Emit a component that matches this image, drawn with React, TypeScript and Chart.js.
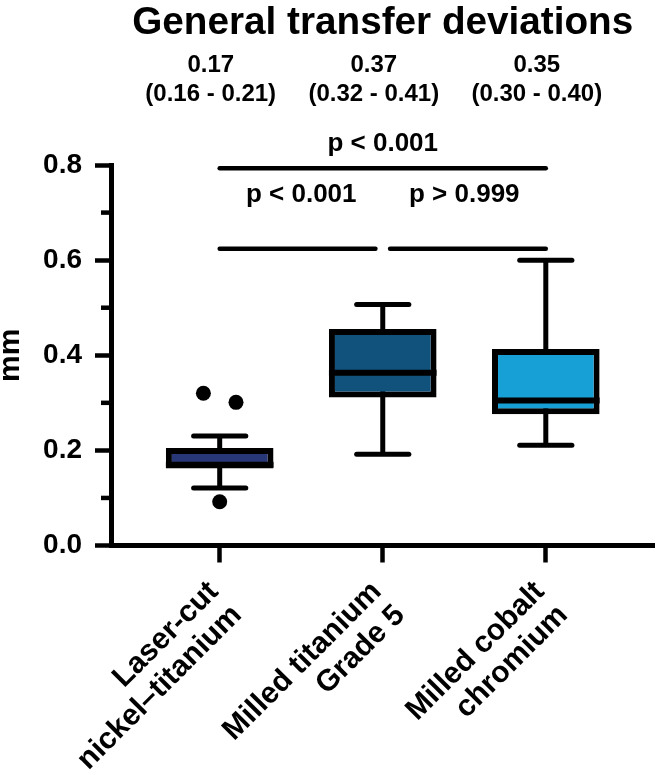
import React, { useEffect, useRef } from 'react';
import { Chart, registerables } from 'chart.js';

Chart.register(...registerables);

// ---------- data ----------
const CATEGORIES: string[][] = [
  ['Laser-cut', 'nickel–titanium'],
  ['Milled titanium', 'Grade 5'],
  ['Milled cobalt', 'chromium'],
];
const WHISKER_LOW = [0.121, 0.192, 0.211];
const Q1 = [0.162, 0.311, 0.276];
const MEDIAN = [0.170, 0.363, 0.305];
const Q3 = [0.205, 0.455, 0.413];
const WHISKER_HIGH = [0.230, 0.507, 0.600];
const OUTLIER_GROUP = [0, 0, 0];
const OUTLIER_VALUE = [0.320, 0.301, 0.092];
const SUMMARY_MEDIAN = ['0.17', '0.37', '0.35'];
const SUMMARY_IQR = ['(0.16 - 0.21)', '(0.32 - 0.41)', '(0.30 - 0.40)'];
const BRACKET_FROM = [0, 0, 1];
const BRACKET_TO = [2, 1, 2];
const BRACKET_LEVEL = [0.793, 0.624, 0.624];
const BRACKET_LABEL = ['p < 0.001', 'p < 0.001', 'p > 0.999'];
const Y_TICKS = [0, 0.2, 0.4, 0.6, 0.8];
const Y_MINOR_TICKS = [0.1, 0.3, 0.5, 0.7];
const TITLE = 'General transfer deviations';
const Y_TITLE = 'mm';

// ---------- styles ----------
const BOX_COLORS = ['#283778', '#11527c', '#17a0d6'];
const FONT = "'Liberation Sans', Arial, Helvetica, sans-serif";
const JITTER = 0.2;
const CAP_HALF = 0.16;
const BRACKET_GAP = 0.045;

function outlierPoints() {
  const pts: { x: number; y: number }[] = [];
  for (let g = 0; g < CATEGORIES.length; g++) {
    for (const side of ['above', 'below']) {
      const idx = OUTLIER_VALUE.map((_, i) => i).filter(
        (i) =>
          OUTLIER_GROUP[i] === g &&
          (side === 'above' ? OUTLIER_VALUE[i] > Q3[g] : OUTLIER_VALUE[i] < Q1[g])
      );
      idx.forEach((i, k) =>
        pts.push({ x: g + (k - (idx.length - 1) / 2) * JITTER, y: OUTLIER_VALUE[i] })
      );
    }
  }
  return pts;
}

const boxExtras = {
  id: 'boxExtras',
  beforeDatasetsDraw(chart: any) {
    const { ctx } = chart;
    const x = chart.scales.x;
    const y = chart.scales.y;
    ctx.save();
    ctx.strokeStyle = '#000';
    ctx.lineWidth = 5;
    ctx.lineCap = 'butt';
    for (let i = 0; i < CATEGORIES.length; i++) {
      const px = x.getPixelForValue(i);
      ctx.beginPath();
      ctx.moveTo(px, y.getPixelForValue(WHISKER_LOW[i]));
      ctx.lineTo(px, y.getPixelForValue(WHISKER_HIGH[i]));
      ctx.stroke();
    }
    ctx.restore();
  },
  afterDatasetsDraw(chart: any) {
    const { ctx, chartArea } = chart;
    const x = chart.scales.x;
    const y = chart.scales.y;
    ctx.save();
    ctx.strokeStyle = '#000';
    ctx.fillStyle = '#000';

    // medians
    const meta = chart.getDatasetMeta(0);
    ctx.lineWidth = 6;
    ctx.lineCap = 'butt';
    meta.data.forEach((bar: any, i: number) => {
      const p = bar.getProps(['x', 'width'], true);
      const my = y.getPixelForValue(MEDIAN[i]);
      ctx.beginPath();
      ctx.moveTo(p.x - p.width / 2, my);
      ctx.lineTo(p.x + p.width / 2, my);
      ctx.stroke();
    });

    // whisker caps
    ctx.lineWidth = 5;
    ctx.lineCap = 'round';
    for (let i = 0; i < CATEGORIES.length; i++) {
      for (const v of [WHISKER_LOW[i], WHISKER_HIGH[i]]) {
        const py = y.getPixelForValue(v);
        ctx.beginPath();
        ctx.moveTo(x.getPixelForValue(i - CAP_HALF), py);
        ctx.lineTo(x.getPixelForValue(i + CAP_HALF), py);
        ctx.stroke();
      }
    }

    // minor y ticks
    ctx.lineWidth = 4.5;
    ctx.lineCap = 'butt';
    for (const v of Y_MINOR_TICKS) {
      const py = y.getPixelForValue(v);
      ctx.beginPath();
      ctx.moveTo(chartArea.left - 10, py);
      ctx.lineTo(chartArea.left, py);
      ctx.stroke();
    }

    // comparison brackets
    ctx.lineWidth = 4.5;
    ctx.lineCap = 'round';
    ctx.font = `bold 26px ${FONT}`;
    ctx.textAlign = 'center';
    ctx.textBaseline = 'alphabetic';
    for (let b = 0; b < BRACKET_LABEL.length; b++) {
      const shared = (pt: number) =>
        BRACKET_LEVEL.some(
          (lv, k) => k !== b && lv === BRACKET_LEVEL[b] && (BRACKET_FROM[k] === pt || BRACKET_TO[k] === pt)
        );
      const a = BRACKET_FROM[b] + (shared(BRACKET_FROM[b]) ? BRACKET_GAP : 0);
      const e = BRACKET_TO[b] - (shared(BRACKET_TO[b]) ? BRACKET_GAP : 0);
      const py = y.getPixelForValue(BRACKET_LEVEL[b]);
      ctx.beginPath();
      ctx.moveTo(x.getPixelForValue(a), py);
      ctx.lineTo(x.getPixelForValue(e), py);
      ctx.stroke();
      const cx = x.getPixelForValue((BRACKET_FROM[b] + BRACKET_TO[b]) / 2);
      const textY = b === 0 ? py - 17 : chartArea.top + 37;
      ctx.fillText(BRACKET_LABEL[b], cx, textY);
    }

    // group summaries
    ctx.font = `bold 24px ${FONT}`;
    for (let i = 0; i < CATEGORIES.length; i++) {
      const cx = x.getPixelForValue(i - 0.055);
      ctx.fillText(SUMMARY_MEDIAN[i], cx, chartArea.top - 93);
      ctx.fillText(SUMMARY_IQR[i], cx, chartArea.top - 64.5);
    }
    ctx.restore();
  },
};

export default function App() {
  const ref = useRef<HTMLCanvasElement>(null);
  useEffect(() => {
    if (!ref.current) return;
    const chart = new Chart(ref.current, {
      type: 'bar',
      data: {
        datasets: [
          {
            type: 'bar',
            data: Q1.map((q, i) => ({ x: i, y: [q, Q3[i]] })) as any,
            backgroundColor: BOX_COLORS,
            borderColor: '#000',
            borderWidth: 6,
            borderSkipped: false,
            barPercentage: 0.66,
            categoryPercentage: 1,
          } as any,
          {
            type: 'scatter',
            data: outlierPoints(),
            pointRadius: 7.5,
            pointBackgroundColor: '#000',
            pointBorderWidth: 0,
            showLine: false,
          } as any,
        ],
      },
      options: {
        animation: false,
        responsive: false,
        devicePixelRatio: 1,
        layout: { padding: { top: 0, right: 1, bottom: 0, left: 0 } },
        plugins: {
          legend: { display: false },
          tooltip: { enabled: false },
          title: {
            display: true,
            text: TITLE,
            color: '#000',
            fullSize: false,
            font: { size: 38.7, weight: 'bold', family: FONT, lineHeight: 1.2 },
            padding: { top: 0, bottom: 118.6 },
          },
        },
        scales: {
          x: {
            type: 'linear',
            min: -2 / 3,
            max: 8 / 3,
            offset: false,
            afterBuildTicks: (s: any) => {
              s.ticks = CATEGORIES.map((_, i) => ({ value: i }));
            },
            afterFit: (s: any) => {
              s.height = 229.5;
            },
            grid: {
              display: true,
              offset: false,
              drawOnChartArea: false,
              drawTicks: true,
              tickLength: 17,
              tickWidth: 4.5,
              tickColor: '#000',
            },
            border: { display: true, color: '#000', width: 5 },
            ticks: {
              autoSkip: false,
              minRotation: 45,
              maxRotation: 45,
              padding: 13,
              labelOffset: -6,
              color: '#000',
              font: { size: 30, weight: 'bold', family: FONT, lineHeight: 1.1 },
              callback: (v: any) => CATEGORIES[Math.round(Number(v))],
            },
          },
          y: {
            type: 'linear',
            min: 0,
            max: 0.8,
            afterBuildTicks: (s: any) => {
              s.ticks = Y_TICKS.map((v) => ({ value: v }));
            },
            afterFit: (s: any) => {
              s.width = 111;
            },
            grid: {
              display: true,
              drawOnChartArea: false,
              drawTicks: true,
              tickLength: 16,
              tickWidth: 4.5,
              tickColor: '#000',
            },
            border: { display: true, color: '#000', width: 5 },
            ticks: {
              padding: 13,
              color: '#000',
              font: { size: 28, weight: 'bold', family: FONT },
              callback: (v: any) => Number(v).toFixed(1),
            },
            title: {
              display: true,
              text: Y_TITLE,
              color: '#000',
              font: { size: 30, weight: 'bold', family: FONT, lineHeight: 0.7 },
              padding: 0,
            },
          },
        },
      } as any,
      plugins: [boxExtras],
    });
    return () => chart.destroy();
  }, []);
  return (
    <div style={{ position: 'absolute', left: 0, top: 0, width: 662, height: 775, background: '#fff' }}>
      <canvas ref={ref} width={662} height={775} style={{ display: 'block', width: 662, height: 775 }} />
    </div>
  );
}
